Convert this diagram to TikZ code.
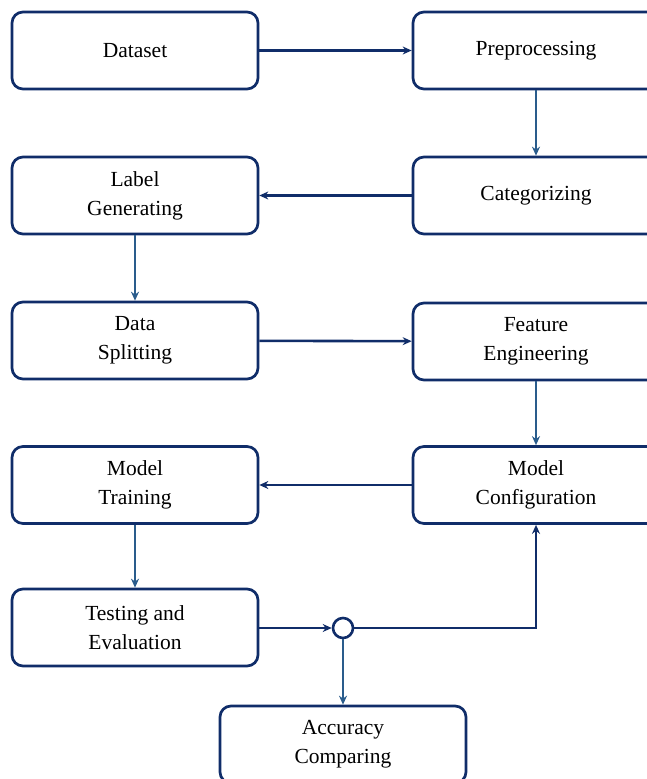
\documentclass[tikz,border=0pt]{standalone}
\usepackage{fontspec}
\setmainfont{Liberation Serif}
\usepackage{tikz}
\usetikzlibrary{arrows.meta}

\definecolor{boxnavy}{RGB}{16,45,105}
\definecolor{arrsteel}{RGB}{42,92,140}

\tikzset{
  stepbox/.style={rectangle,
      draw = boxnavy,
      line width = 2.7bp,
      rounded corners = 11bp,
      fill = white,
      align = center,
      font = \fontsize{21.5bp}{29bp}\selectfont,
      minimum width = 246bp,
      minimum height = 77bp},
  harr/.style={draw = boxnavy, line width = 2.6bp, -{Stealth[length=9bp,width=8bp]}},
  varr/.style={draw = arrsteel, line width = 2.6bp, -{Stealth[length=9bp,width=8bp]}}
}

\begin{document}
\begin{tikzpicture}[x=1bp, y=-1bp]
\clip (0,0) rectangle (647,779);
\fill[white] (0,0) rectangle (647,779);

% left column
  \node[stepbox] (dataset) at (135,50.5) {Dataset};
  \node[stepbox] (labelgen) at (135,195.5) {Label\\Generating};
  \node[stepbox] (split) at (135,340.5) {Data\\Splitting};
  \node[stepbox] (training) at (135,485) {Model\\Training};
  \node[stepbox] (testing) at (135,627.5) {Testing and\\Evaluation};

% right column
  \node[stepbox] (preproc) at (536,50.5) {Preprocessing};
  \node[stepbox] (categ) at (536,195.5) {Categorizing};
  \node[stepbox] (feature) at (536,341.5) {Feature\\Engineering};
  \node[stepbox] (config) at (536,485) {Model\\Configuration};

% output
  \node[stepbox] (accuracy) at (343,744.5) {Accuracy\\Comparing};
  \node[circle,
      draw = boxnavy,
      line width = 2.6bp,
      fill = white,
      minimum size = 20bp,
      inner sep = 0pt] (junc) at (343,628) {};

% flow
\draw[harr] (dataset) -- (preproc);
\draw[varr] (preproc) -- (categ);
\draw[harr] (categ) -- (labelgen);
\draw[varr] (labelgen) -- (split);
\draw[harr] (split) -- (feature);
\draw[varr] (feature) -- (config);
\draw[harr] (config) -- (training);
\draw[varr] (training) -- (testing);
\draw[harr] (testing.east |- junc) -- (junc);
\draw[harr] (junc) -| (config);
\draw[varr] (junc) -- (accuracy);
\end{tikzpicture}
\end{document}
